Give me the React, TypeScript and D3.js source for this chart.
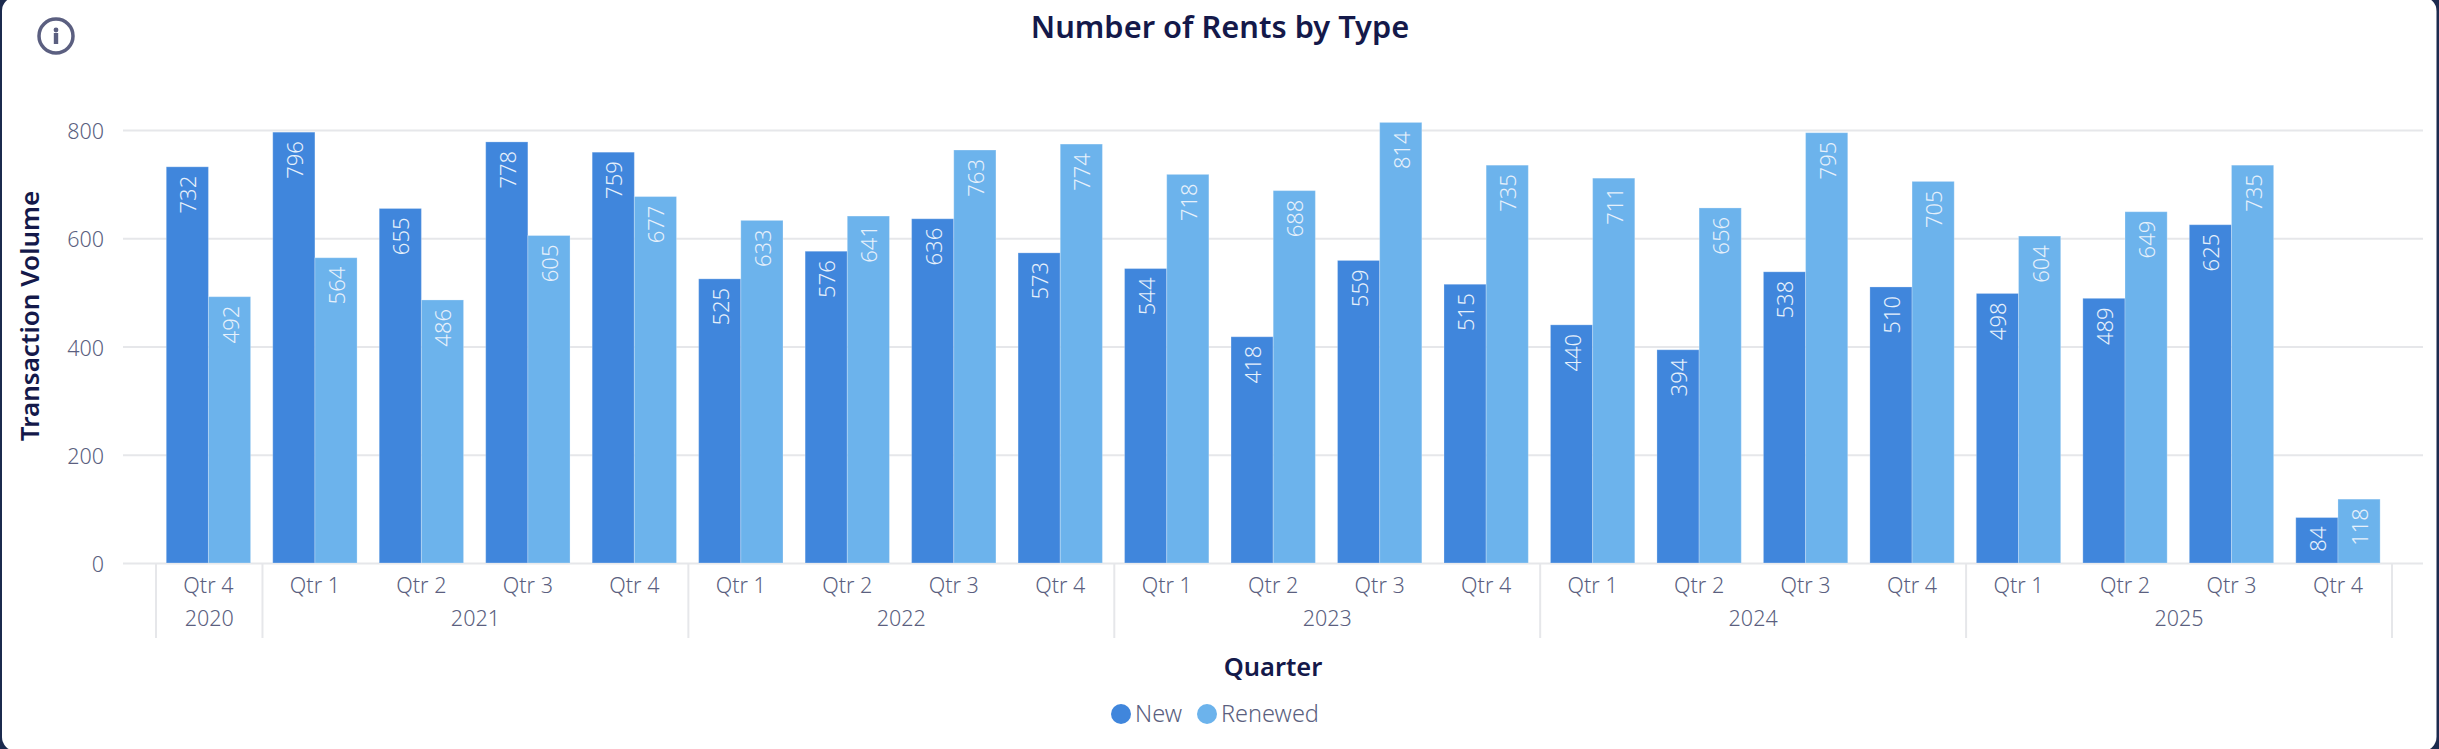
import { useEffect, useRef } from 'react';
import * as d3 from 'd3';

const quarters = ['Qtr 4', 'Qtr 1', 'Qtr 2', 'Qtr 3', 'Qtr 4', 'Qtr 1', 'Qtr 2', 'Qtr 3', 'Qtr 4', 'Qtr 1', 'Qtr 2', 'Qtr 3', 'Qtr 4', 'Qtr 1', 'Qtr 2', 'Qtr 3', 'Qtr 4', 'Qtr 1', 'Qtr 2', 'Qtr 3', 'Qtr 4'];
const years = ['2020', '2021', '2022', '2023', '2024', '2025'];
const quartersPerYear = [1, 4, 4, 4, 4, 4];
const newRents = [732, 796, 655, 778, 759, 525, 576, 636, 573, 544, 418, 559, 515, 440, 394, 538, 510, 498, 489, 625, 84];
const renewedRents = [492, 564, 486, 605, 677, 633, 641, 763, 774, 718, 688, 814, 735, 711, 656, 795, 705, 604, 649, 735, 118];
const seriesNames = ['New', 'Renewed'];
const yTicks = [0, 200, 400, 600, 800];

const W = 2439;
const H = 749;
const FONT = '"Noto Sans", "Open Sans", sans-serif';
const COLORS = ['#4086dc', '#6cb3ec'];
const INK = '#14194a';
const MUTED = '#5b5f80';
const GRID = '#e6e7ea';

export default function App() {
  const ref = useRef<SVGSVGElement | null>(null);

  useEffect(() => {
    document.body.style.margin = '0';
    const svg = d3.select(ref.current!);
    svg.selectAll('*').remove();
    svg.attr('font-family', FONT);

    // card with the dark page peeking out at the edges
    svg.append('rect').attr('width', W).attr('height', H).attr('fill', '#1b2a4e');
    svg.append('rect').attr('x', 2).attr('y', -3).attr('width', 2434.5).attr('height', 754).attr('rx', 14).attr('fill', '#fff');

    const plotLeft = 123, plotRight = 2423, bandLeft = 156, bandRight = 2392;
    const y = d3.scaleLinear().domain([0, 800]).range([563, 130]);
    const x = d3.scaleBand<number>().domain(d3.range(quarters.length)).range([bandLeft - 0.8, bandRight - 0.8]).paddingInner(0.208).paddingOuter(0.104);
    const inner = d3.scaleBand<string>().domain(seriesNames).range([0, x.bandwidth()]);

    // gridlines + value axis
    const yAxis = svg.append('g').attr('transform', `translate(${plotLeft},0)`)
      .call(d3.axisLeft(y).tickValues(yTicks).tickSize(-(plotRight - plotLeft)).tickPadding(19).tickFormat(d3.format('d')) as any);
    yAxis.select('.domain').remove();
    yAxis.selectAll('line').attr('stroke', GRID).attr('stroke-width', 2);
    yAxis.selectAll('text').attr('fill', MUTED).attr('font-size', 21.5).attr('font-weight', 300).attr('font-family', FONT).attr('dy', '0.4em');

    // bars
    const series = [newRents, renewedRents];
    series.forEach((values, s) => {
      const name = seriesNames[s];
      const g = svg.append('g');
      g.selectAll('rect').data(values).join('rect')
        .attr('x', (_, i) => x(i)! + inner(name)!)
        .attr('y', (d) => y(d))
        .attr('width', inner.bandwidth())
        .attr('height', (d) => y(0) - y(d))
        .attr('fill', COLORS[s])
        .attr('stroke', 'rgba(255,255,255,0.25)')
        .attr('stroke-width', 1);
      g.selectAll('text').data(values).join('text')
        .attr('transform', (d, i) => `translate(${x(i)! + inner(name)! + inner.bandwidth() / 2 + 9},${y(d) + 9}) rotate(-90)`)
        .attr('text-anchor', 'end')
        .attr('fill', '#e6f0fb')
        .attr('font-size', 22)
        .attr('font-weight', 300)
        .text((d) => d);
    });

    // quarter labels
    svg.append('g').selectAll('text').data(quarters).join('text')
      .attr('x', (_, i) => x(i)! + x.bandwidth() / 2)
      .attr('y', 593)
      .attr('text-anchor', 'middle').attr('fill', MUTED).attr('font-size', 21.5).attr('font-weight', 300)
      .text((d) => d);

    // year groups and separators
    const starts = d3.cumsum([0, ...quartersPerYear]);
    const edge = (k: number) => bandLeft + k * x.step();
    svg.append('g').selectAll('line').data(Array.from(starts)).join('line')
      .attr('x1', (k) => edge(k)).attr('x2', (k) => edge(k))
      .attr('y1', 563).attr('y2', 638)
      .attr('stroke', GRID).attr('stroke-width', 2);
    svg.append('g').selectAll('text').data(years).join('text')
      .attr('x', (_, i) => (edge(starts[i]) + edge(starts[i + 1])) / 2)
      .attr('y', 626)
      .attr('text-anchor', 'middle').attr('fill', MUTED).attr('font-size', 21.5).attr('font-weight', 300)
      .text((d) => d);

    // titles
    svg.append('text').attr('x', 1220).attr('y', 38).attr('text-anchor', 'middle')
      .attr('fill', INK).attr('font-size', 30.8).attr('font-weight', 600).text('Number of Rents by Type');
    svg.append('text').attr('transform', 'translate(39,316) rotate(-90)').attr('text-anchor', 'middle')
      .attr('fill', INK).attr('font-size', 26).attr('font-weight', 600).text('Transaction Volume');
    svg.append('text').attr('x', 1273).attr('y', 676).attr('text-anchor', 'middle')
      .attr('fill', INK).attr('font-size', 25.5).attr('font-weight', 600).text('Quarter');

    // info icon
    const icon = svg.append('g').attr('transform', 'translate(56,36)').attr('fill', MUTED);
    icon.append('circle').attr('r', 17).attr('fill', 'none').attr('stroke', MUTED).attr('stroke-width', 3.5);
    icon.append('circle').attr('cy', -6).attr('r', 2.4);
    icon.append('rect').attr('x', -2.2).attr('y', -3).attr('width', 4.4).attr('height', 11);

    // legend
    const legendX = [1121, 1207];
    const legend = svg.append('g').selectAll('g').data(seriesNames).join('g')
      .attr('transform', (_, i) => `translate(${legendX[i]},714)`);
    legend.append('circle').attr('r', 10).attr('fill', (_, i) => COLORS[i]);
    legend.append('text').attr('x', 14).attr('y', 8).attr('fill', MUTED).attr('font-size', 23.5).attr('font-weight', 300).text((d) => d);
  }, []);

  return <svg ref={ref} width={W} height={H} style={{ display: 'block' }} />;
}
